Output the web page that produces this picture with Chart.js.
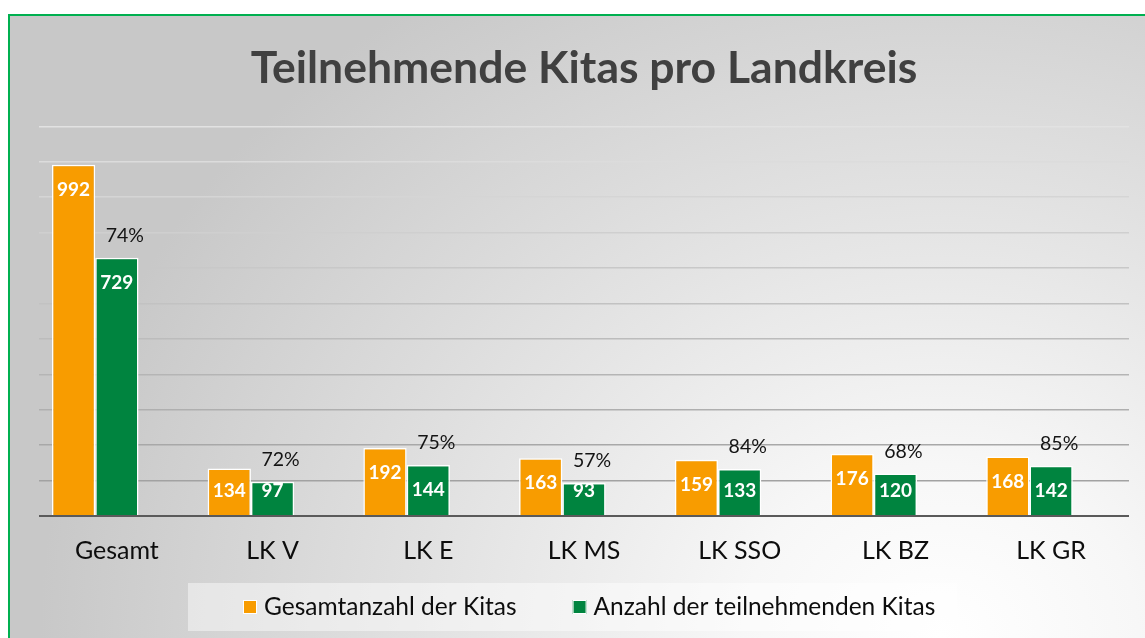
<!DOCTYPE html>
<html lang="de">
<head>
<meta charset="utf-8">
<title>Teilnehmende Kitas pro Landkreis</title>
<script src="https://cdn.jsdelivr.net/npm/chart.js@4.4.1/dist/chart.umd.min.js"></script>
<style>
  html, body { margin: 0; padding: 0; background: #ffffff; overflow: hidden; }
  #frame {
    position: absolute; left: 8px; top: 14px; width: 1160px; height: 650px;
    border-top: 2px solid #00b050; border-left: 2px solid #00b050;
    background: radial-gradient(ellipse 900px 780px at 930px 620px,
      #ffffff 0%, #f7f7f7 22%, #e0e0e0 60%, #c8c8c8 100%);
  }
  #kitas { position: absolute; left: 0; top: 0; }
</style>
</head>
<body>
<div id="frame"></div>
<canvas id="kitas" width="1145" height="638"></canvas>
<script>
// Chart data
const categories    = [ 'Gesamt', 'LK V', 'LK E', 'LK MS', 'LK SSO', 'LK BZ', 'LK GR' ];
const totalKitas    = [ 992, 134, 192, 163, 159, 176, 168 ];
const takingPart    = [ 729,  97, 144,  93, 133, 120, 142 ];
const shareValues   = [  74,  72,  75,  57,  84,  68,  85 ];
const seriesNames   = [ 'Gesamtanzahl der Kitas', 'Anzahl der teilnehmenden Kitas' ];
const yMax          = 1100;
const yStep         = 100;

const kitaOrange = '#f89c00';
const kitaGreen  = '#00843f';
const fontFamily = 'Lato, "Open Sans", sans-serif';

/**
 * Gridline shade, lighter towards the top
 */
function kita_grid_color( value ) {
    if ( 0 === value ) {
        return '#5a5a5a';
    }
    let g = Math.round( 162 + ( value - yStep ) / ( yMax - yStep ) * 64 );
    return 'rgb(' + g + ',' + g + ',' + g + ')';
}

/**
 * White numbers inside bars + share labels above green bars
 */
const kitaLabels = {
    id: 'kitaLabels',
    afterDatasetsDraw( chart ) {
        let ctx = chart.ctx;
        ctx.save();
        ctx.textAlign    = 'center';
        ctx.textBaseline = 'middle';

        [ 0, 1 ].forEach( function ( i ) {
            let meta   = chart.getDatasetMeta( i );
            let values = chart.data.datasets[ i ].data;
            ctx.font      = 'bold 19px ' + fontFamily;
            ctx.fillStyle = '#ffffff';
            meta.data.forEach( function ( bar, j ) {
                let y = Math.min( bar.y + 25, bar.base - 24 );
                ctx.fillText( values[ j ], bar.x, y );
            });
        });

        let green = chart.getDatasetMeta( 1 );
        ctx.font      = '19.5px ' + fontFamily;
        ctx.fillStyle = '#141414';
        green.data.forEach( function ( bar, j ) {
            ctx.fillText( shareValues[ j ] + '%', bar.x + 8, bar.y - 22 );
        });
        ctx.restore();
    }
};

/**
 * Legend in a light box under the axis
 */
const kitaLegend = {
    id: 'kitaLegend',
    afterDraw( chart ) {
        let ctx = chart.ctx;
        ctx.save();
        ctx.fillStyle = 'rgba(255,255,255,0.45)';
        ctx.fillRect( 188, 583, 769, 48 );

        ctx.font         = '24.5px ' + fontFamily;
        ctx.textBaseline = 'middle';
        ctx.textAlign    = 'left';

        let x = 243;
        let y = 607;
        [ 0, 1 ].forEach( function ( i ) {
            let ds = chart.data.datasets[ i ];
            ctx.fillStyle = ds.backgroundColor;
            ctx.fillRect( x, y - 7, 14, 14 );
            ctx.strokeStyle = '#ffffff';
            ctx.lineWidth   = 1;
            ctx.strokeRect( x + 0.5, y - 6.5, 13, 13 );
            ctx.fillStyle = '#0d0d0d';
            ctx.fillText( ds.label, x + 21, y );
            x += 21 + ctx.measureText( ds.label ).width + 56;
        });
        ctx.restore();
    }
};

new Chart( document.getElementById( 'kitas' ), {
    type: 'bar',
    data: {
        labels: categories,
        datasets: [
            {
                label: seriesNames[ 0 ],
                data: totalKitas,
                backgroundColor: kitaOrange,
                borderColor: '#ffffff',
                borderWidth: 1.5,
                borderSkipped: 'bottom'
            },
            {
                label: seriesNames[ 1 ],
                data: takingPart,
                backgroundColor: kitaGreen,
                borderColor: '#ffffff',
                borderWidth: 1.5,
                borderSkipped: 'bottom'
            },
            {
                label: 'Anteil',
                data: shareValues,
                yAxisID: 'yShare',
                backgroundColor: 'rgba(0,0,0,0)',
                borderWidth: 0
            }
        ]
    },
    options: {
        responsive: false,
        animation: false,
        devicePixelRatio: 1,
        categoryPercentage: 0.834,
        barPercentage: 1,
        layout: {
            padding: { left: 39, right: 16, top: 0, bottom: 52 }
        },
        plugins: {
            legend: { display: false },
            tooltip: { enabled: false },
            title: {
                display: true,
                text: 'Teilnehmende Kitas pro Landkreis',
                color: '#404040',
                font: { family: fontFamily, size: 44.5, weight: 'bold', lineHeight: 1.2 },
                padding: { top: 42, bottom: 31 }
            }
        },
        scales: {
            x: {
                grid: { display: false, drawTicks: false },
                border: { display: false },
                ticks: {
                    color: '#0d0d0d',
                    padding: 20,
                    font: { family: fontFamily, size: 25, lineHeight: 1.2 }
                }
            },
            y: {
                min: 0,
                max: yMax,
                ticks: { display: false, stepSize: yStep },
                border: { display: false },
                grid: {
                    drawTicks: false,
                    color: function ( c ) { return kita_grid_color( c.tick.value ); },
                    lineWidth: function ( c ) { return 0 === c.tick.value ? 2 : 1.5; }
                }
            },
            yShare: {
                display: false,
                min: 0,
                max: 100
            }
        }
    },
    plugins: [ kitaLabels, kitaLegend ]
});
</script>
</body>
</html>
